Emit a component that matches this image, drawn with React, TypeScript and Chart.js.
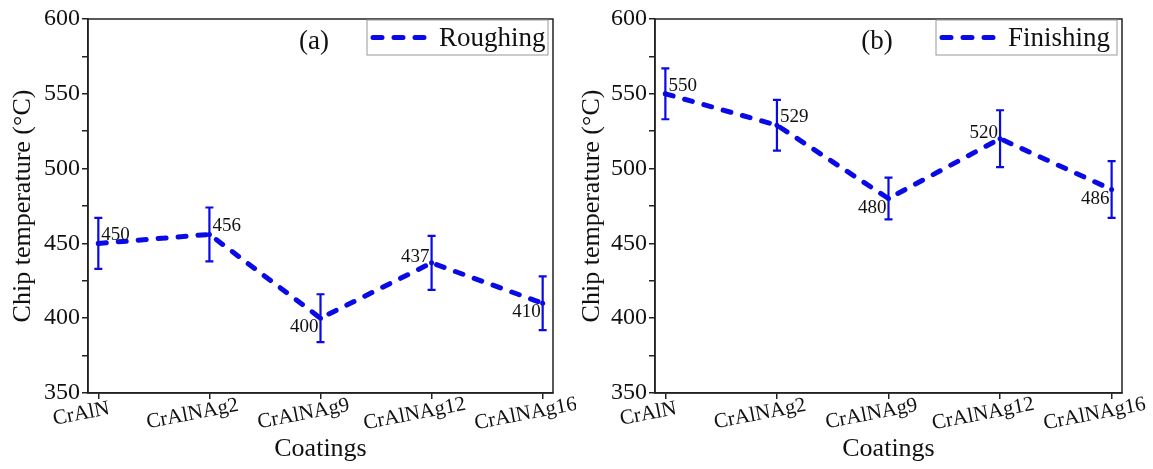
import React, { useEffect, useRef } from "react";
import { Chart, registerables } from "chart.js";

Chart.register(...registerables);

const coatings = ["CrAlN", "CrAlNAg2", "CrAlNAg9", "CrAlNAg12", "CrAlNAg16"];
const roughing = [450, 456, 400, 437, 410];
const roughingErr = [17, 18, 16, 18, 18];
const finishing = [550, 529, 480, 520, 486];
const finishingErr = [17, 17, 14, 19, 19];
const roughingLabelSide = ["ne", "ne", "sw", "nw", "sw"];
const finishingLabelSide = ["ne", "ne", "sw", "nw", "sw"];
const yTicks = [350, 400, 450, 500, 550, 600];

const BLUE = "#0a0ae6";
const SERIF = "'Liberation Serif', 'DejaVu Serif', serif";

const overlay = {
  id: "overlay",
  afterDatasetsDraw(chart: any) {
    const o = chart.options.plugins.overlay;
    const { ctx, chartArea: a, scales } = chart;
    const x = scales.x;
    const y = scales.y;
    ctx.save();
    // error bars
    ctx.strokeStyle = BLUE;
    ctx.lineWidth = 2.2;
    o.values.forEach((v: number, i: number) => {
      const px = x.getPixelForValue(i);
      const t = y.getPixelForValue(v + o.errs[i]);
      const b = y.getPixelForValue(v - o.errs[i]);
      ctx.beginPath();
      ctx.moveTo(px, t);
      ctx.lineTo(px, b);
      ctx.moveTo(px - 4, t);
      ctx.lineTo(px + 4, t);
      ctx.moveTo(px - 4, b);
      ctx.lineTo(px + 4, b);
      ctx.stroke();
    });
    // value labels
    ctx.fillStyle = "#111";
    ctx.font = `19px ${SERIF}`;
    ctx.textBaseline = "middle";
    o.values.forEach((v: number, i: number) => {
      const px = x.getPixelForValue(i);
      const py = y.getPixelForValue(v);
      const side = o.sides[i];
      let tx = px;
      let ty = py;
      if (side === "ne") {
        ctx.textAlign = "left";
        tx = px + 3;
        ty = py - 8;
      } else if (side === "nw") {
        ctx.textAlign = "right";
        tx = px - 2;
        ty = py - 6;
      } else {
        ctx.textAlign = "right";
        tx = px - 2;
        ty = py + 9;
      }
      ctx.fillText(String(v), tx, ty);
    });
    // category labels (rotated, centred)
    ctx.font = `21px ${SERIF}`;
    ctx.textAlign = "center";
    ctx.textBaseline = "middle";
    coatings.forEach((c, i) => {
      const px = x.getPixelForValue(i);
      ctx.save();
      ctx.translate(px - 17, a.bottom + 21);
      ctx.rotate((-11 * Math.PI) / 180);
      ctx.fillText(c, 0, 0);
      ctx.restore();
    });
    // frame
    ctx.strokeStyle = "#222";
    ctx.lineWidth = 1.5;
    ctx.strokeRect(a.left, a.top, a.right - a.left, a.bottom - a.top);
    // panel tag
    ctx.fillStyle = "#111";
    ctx.font = `27px ${SERIF}`;
    ctx.textAlign = "center";
    ctx.textBaseline = "middle";
    ctx.fillText(o.tag, a.left + o.tagX, a.top + 23);
    // legend
    const bw = 181;
    const bh = 35;
    const bx = a.right - 5 - bw;
    const by = a.top + 1;
    ctx.strokeStyle = "#999";
    ctx.lineWidth = 1;
    ctx.strokeRect(bx, by, bw, bh);
    ctx.strokeStyle = BLUE;
    ctx.lineWidth = 5;
    ctx.lineCap = "round";
    ctx.setLineDash([9, 12]);
    ctx.beginPath();
    ctx.moveTo(bx + 6, by + bh / 2);
    ctx.lineTo(bx + 64, by + bh / 2);
    ctx.stroke();
    ctx.setLineDash([]);
    ctx.lineCap = "butt";
    ctx.fillStyle = "#111";
    ctx.font = `27px ${SERIF}`;
    ctx.textAlign = "left";
    ctx.fillText(chart.data.datasets[0].label, bx + 72, by + bh / 2 + 1);
    ctx.restore();
  },
};

function Panel(props: {
  width: number;
  axisWidth: number;
  padRight: number;
  titlePad: number;
  label: string;
  values: number[];
  errs: number[];
  sides: string[];
  tag: string;
  tagX: number;
}) {
  const ref = useRef<HTMLCanvasElement | null>(null);
  useEffect(() => {
    if (!ref.current) return;
    const chart = new Chart(ref.current, {
      type: "line",
      data: {
        datasets: [
          {
            label: props.label,
            data: props.values.map((v, i) => ({ x: i, y: v })),
            borderColor: BLUE,
            backgroundColor: BLUE,
            borderWidth: 5,
            borderDash: [8, 12],
            borderCapStyle: "round",
            pointRadius: 2.5,
            pointBorderWidth: 0,
            tension: 0,
          },
        ],
      },
      options: {
        responsive: false,
        animation: false,
        layout: { padding: { left: 0, right: props.padRight, top: 19, bottom: 0 } },
        plugins: {
          legend: { display: false },
          tooltip: { enabled: false },
          overlay: {
            values: props.values,
            errs: props.errs,
            sides: props.sides,
            tag: props.tag,
            tagX: props.tagX,
          },
        } as any,
        scales: {
          x: {
            type: "linear",
            min: -0.093,
            max: 4.093,
            afterBuildTicks: (s: any) => {
              s.ticks = coatings.map((_, i) => ({ value: i }));
            },
            afterFit: (s: any) => {
              s.height = 76;
            },
            ticks: {
              display: false,
              autoSkip: false,
            },
            grid: { drawOnChartArea: false, drawTicks: true, tickLength: 6, color: "#222", lineWidth: 1.5 },
            border: { display: true, color: "#222", width: 1.5 },
            title: {
              display: true,
              text: "Coatings",
              color: "#111",
              font: { family: SERIF, size: 26 },
              padding: { top: 0, bottom: 4 },
            },
          },
          y: {
            min: 350,
            max: 600,
            afterBuildTicks: (s: any) => {
              const t: any[] = [];
              for (let i = 0; i < yTicks.length; i++) {
                t.push({ value: yTicks[i] });
                if (i < yTicks.length - 1) t.push({ value: (yTicks[i] + yTicks[i + 1]) / 2 });
              }
              s.ticks = t;
            },
            afterFit: (s: any) => {
              s.width = props.axisWidth;
            },
            ticks: {
              color: "#111",
              padding: 2,
              font: { family: SERIF, size: 24 },
              callback: (v: any) => (yTicks.includes(Number(v)) ? String(v) : ""),
            },
            grid: { drawOnChartArea: false, tickLength: 6, color: "#222", lineWidth: 1.5 },
            border: { display: true, color: "#222", width: 1.5 },
            title: {
              display: true,
              text: "Chip temperature (°C)",
              color: "#111",
              font: { family: SERIF, size: 26 },
              padding: { top: props.titlePad, bottom: 0 },
            },
          },
        },
      } as any,
      plugins: [overlay],
    });
    return () => chart.destroy();
  }, []);
  return <canvas ref={ref} width={props.width} height={469} style={{ display: "block" }} />;
}

export default function App() {
  return (
    <div
      style={{
        position: "absolute",
        left: 0,
        top: 0,
        width: 1153,
        height: 469,
        display: "flex",
        background: "#fff",
      }}
    >
      <Panel
        width={576}
        axisWidth={88}
        padRight={23}
        titlePad={8}
        label="Roughing"
        values={roughing}
        errs={roughingErr}
        sides={roughingLabelSide}
        tag="(a)"
        tagX={226}
      />
      <Panel
        width={577}
        axisWidth={79}
        padRight={31}
        titlePad={1}
        label="Finishing"
        values={finishing}
        errs={finishingErr}
        sides={finishingLabelSide}
        tag="(b)"
        tagX={222}
      />
    </div>
  );
}
